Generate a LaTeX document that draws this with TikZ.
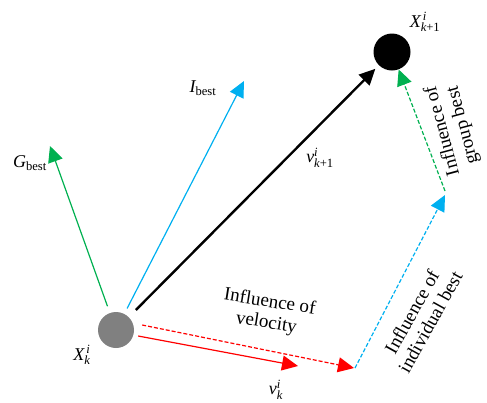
\documentclass[tikz,border=0pt]{standalone}
\usepackage{amsmath}
\usepackage{fontspec}
\setmainfont{Liberation Serif}
\usetikzlibrary{arrows.meta,positioning}
\definecolor{pgreen}{RGB}{0,176,80}
\definecolor{pblue}{RGB}{0,176,240}
\definecolor{pgrey}{RGB}{128,128,128}

\begin{document}
\begin{tikzpicture}[x=1pt,y=-1pt,
  every node/.style={font=\fontsize{18}{20}\selectfont},
  vec/.style={line width=1.2pt,-{Triangle[length=16pt,width=15pt]}},
  infl/.style={dash pattern=on 4pt off 2pt},
  note/.style={align=center,inner sep=0pt,font=\fontsize{19}{21}\selectfont}]
  \useasboundingbox (0,0) rectangle (487,402);
  \node[circle,fill=pgrey,minimum size=36pt,inner sep=0pt] (xk) at (116,330) {};
  \node[circle,fill=black,minimum size=37pt,inner sep=0pt] (xk1) at (392,52) {};
  \coordinate (gtip) at (50,146);
  \coordinate (itip) at (244,81);
  \coordinate (vtip) at (298,366);
  \coordinate (vend) at (354,368);
  \coordinate (pend) at (445,195);
  \draw[vec,pgreen,shorten <=7pt] (xk) -- (gtip);
  \draw[vec,pblue,shorten <=6pt] (xk) -- (itip);
  \draw[vec,black,line width=2.4pt,shorten <=10pt,shorten >=5pt] (xk) -- (xk1);
  \draw[vec,red] ([xshift=4pt,yshift=-6pt]xk.east) -- (vtip);
  \draw[vec,red,infl] ([xshift=8pt,yshift=5pt]xk.east) -- (vend);
  \draw[vec,pblue,infl] ([xshift=1pt]vend) -- (pend);
  \draw[vec,pgreen,infl] ([yshift=4pt]pend) -- (xk1);
  \node (gbest) at (30,163) {$\textit{G}_{\text{best}}$};
  \node (ibest) at (203,88) {$\textit{I}_{\text{best}}$};
  \node (xklab) at (82,355) {$\textit{X}_{\textit{k}}^{\,\textit{i}}$};
  \node (xk1lab) at (425,22) {$\textit{X}_{\textit{k}\text{+1}}^{\,\textit{i}}$};
  \node (vklab) at (276,390) {$\textit{v}_{\textit{k}}^{\textit{i}}$};
  \node (vk1lab) at (320,158) {$\textit{v}_{\textit{k}\text{+1}}^{\textit{i}}$};
  \node[note,rotate=-9] (velo) at (268,313) {Influence of\\velocity};
  \node[note,rotate=61] (indiv) at (421,317) {Influence of\\individual best};
  \node[note,rotate=105] (group) at (453,128) {Influence of\\group best};
\end{tikzpicture}
\end{document}
